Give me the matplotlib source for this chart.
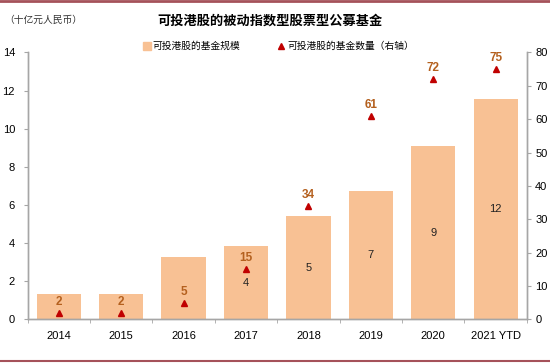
import matplotlib
matplotlib.use('Agg')
import matplotlib.pyplot as plt
from matplotlib.lines import Line2D

plt.rcParams['font.family'] = ['Liberation Sans', 'Noto Sans CJK SC', 'DejaVu Sans']

# data
years = ['2014', '2015', '2016', '2017', '2018', '2019', '2020', '2021 YTD']
fund_size = [1.32, 1.32, 3.29, 3.85, 5.43, 6.72, 9.09, 11.57]      # 十亿元人民币
size_labels = ['', '', '', '4', '5', '7', '9', '12']
fund_count = [2, 2, 5, 15, 34, 61, 72, 75]                          # 右轴

bar_color = '#F8C194'
tri_color = '#C00000'
lab_color = '#B4601E'
axis_grey = '#A6A6A6'
cjk = ['Noto Sans CJK SC', 'DejaVu Sans']

fig = plt.figure(figsize=(5.5, 3.64), dpi=100)
ax = fig.add_axes([0.05, 0.1225, 0.908, 0.7335])
ax2 = ax.twinx()

x = list(range(len(years)))
ax.bar(x, fund_size, width=0.71, color=bar_color, zorder=2)
for xi, v, s in zip(x, fund_size, size_labels):
    if s:
        ax.text(xi, v / 2, s, ha='center', va='center', fontsize=8, color='#222222', zorder=3)

ax2.plot(x, fund_count, linestyle='none', marker='^', markersize=4.6, color=tri_color, zorder=4)
for xi, c in zip(x, fund_count):
    ax2.annotate(str(c), (xi, c), xytext=(0, 8), textcoords='offset points',
                 ha='center', va='center', fontsize=8.5, fontweight='bold', color=lab_color)

ax.set_xlim(-0.5, 7.5)
ax.set_ylim(0, 14)
ax.set_yticks(range(0, 15, 2))
ax2.set_ylim(0, 80)
ax2.set_yticks(range(0, 81, 10))

ax.set_xticks(x)
ax.set_xticklabels(years)
ax.set_xticks([i + 0.5 for i in range(-1, 8)], minor=True)
ax.tick_params(axis='x', which='major', length=0, pad=8, labelsize=8)
ax.tick_params(axis='x', which='minor', length=3, color=axis_grey)
ax.tick_params(axis='y', length=3, color=axis_grey, labelsize=8, pad=6)
ax2.tick_params(axis='y', length=3, color=axis_grey, labelsize=8, pad=3)

for a in (ax, ax2):
    a.spines['top'].set_visible(False)
    for s in ('left', 'right', 'bottom'):
        a.spines[s].set_color(axis_grey)
        a.spines[s].set_linewidth(1.0)
ax2.set_zorder(ax.get_zorder() + 1)
ax2.patch.set_visible(False)

# title and unit
fig.text(0.49, 0.943, '可投港股的被动指数型股票型公募基金', ha='center', va='center',
         fontsize=9.5, fontweight='bold', family=cjk)
fig.text(0.008, 0.945, '（十亿元人民币）', ha='left', va='center', fontsize=7, family=cjk,
         color='#333333')

# legend
handles = [Line2D([], [], linestyle='none', marker='s', markersize=5.5, color=bar_color),
           Line2D([], [], linestyle='none', marker='^', markersize=4.5, color=tri_color)]
leg = fig.legend(handles, ['可投港股的基金规模', '可投港股的基金数量（右轴）'],
                 loc='center', bbox_to_anchor=(0.505, 0.873), ncol=2, frameon=False,
                 handletextpad=0.1, columnspacing=3.7, handlelength=1.0,
                 prop={'family': cjk, 'size': 7})

# top and bottom rules
fig.add_artist(Line2D([0, 1], [0.997, 0.997], color='#A5525A', linewidth=2))
fig.add_artist(Line2D([0, 1], [0.009, 0.009], color='#A5525A', linewidth=1.5))

fig.savefig('out.png', dpi=100)
